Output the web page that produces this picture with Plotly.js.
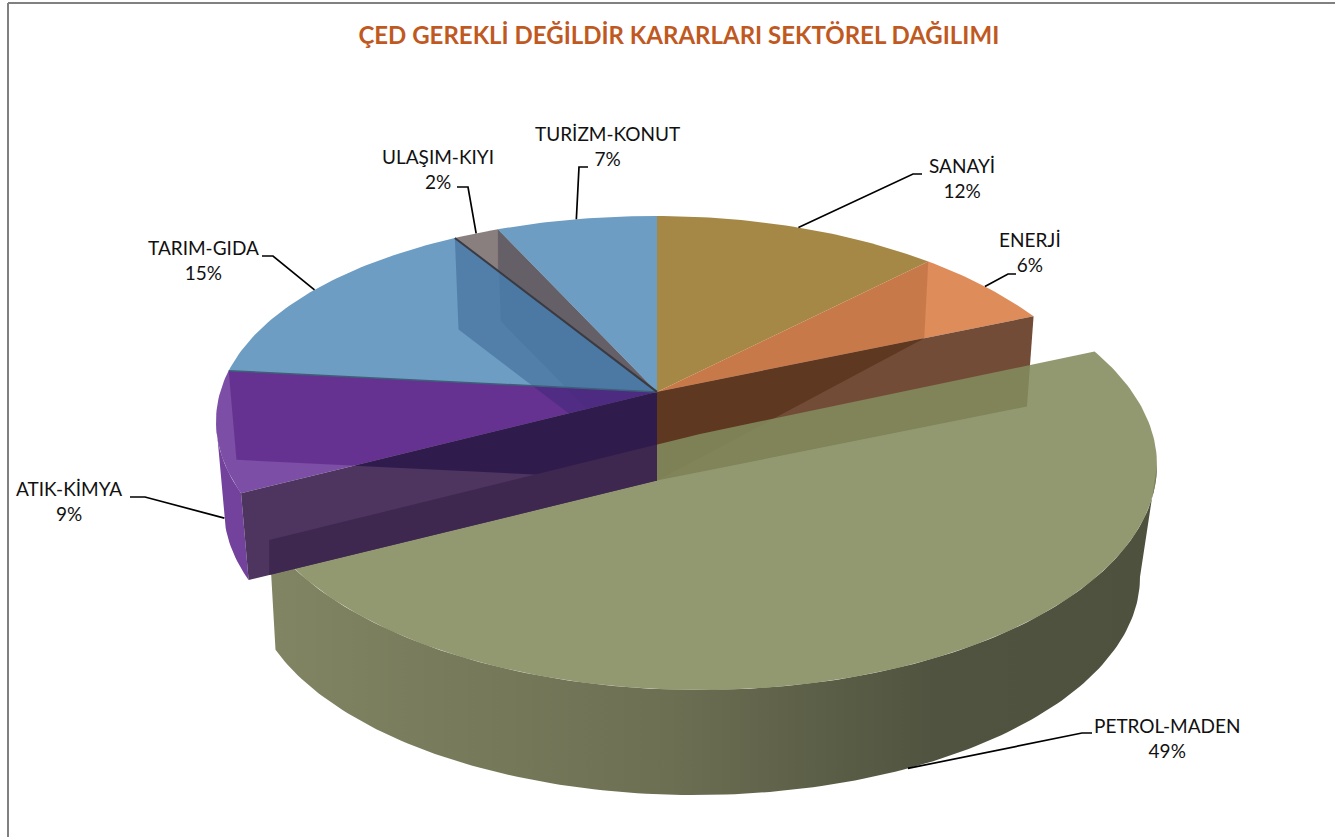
<!DOCTYPE html>
<html><head><meta charset="utf-8"><script src="https://cdn.plot.ly/plotly-3.0.1.min.js"></script>
<style>html,body{margin:0;padding:0;background:#fff;overflow:hidden}#c{width:1335px;height:837px}</style></head>
<body><div id="c"></div><script>
const categories=['SANAYİ','ENERJİ','PETROL-MADEN','ATIK-KİMYA','TARIM-GIDA','ULAŞIM-KIYI','TURİZM-KONUT'];
const percents=[12,6,49,9,15,2,7];
const labelCentres=[[962,178],[1030,252],[1167,738],[69,501],[203,260],[438,169],[607,146]];
const leaderElbows=[[[913,174],[922,174]],[[1008,274],[1016,274]],[[1082,733],[1092,733]],[[145,497],[130,497]],[[273,256],[262,256]],[[468,187],[457,187]],[[579,167],[588,167]]];
const leaderOnWall=[false,false,true,true,false,false,false];
const topColours=['#A58846','#DF8C5B',null,'#7C4EA5','#6D9DC3','#8A7F7F','#6D9DC3'];

// Tilted-disc projection: turns a pie angle into a page position.
const baseTop={cx:657,cy:430,rxR:455,rxL:441,ry:214,a:.178,skew:.02,spin:0};
const baseBot={cx:657,cy:518,rxR:447,rxL:433,ry:210,a:.178,skew:.02,spin:0};
const petTop={cx:700,cy:465,rxR:457,rxL:457,ry:225,a:.138,skew:0,spin:2};
const petBot={cx:695,cy:577,rxR:445,rxL:445,ry:218,a:.138,skew:0,spin:2};
function proj(e,th){const r=(th+e.spin)*Math.PI/180,Y=Math.cos(r),d=1+e.a*Y,k=Math.sqrt(1-e.a*e.a);
  const X=Math.sin(r)*k/d, dx=X*(X>0?e.rxR:e.rxL);
  return [e.cx+dx,e.cy-e.ry*(Y+e.a)/d+e.skew*dx*Math.abs(dx)/e.rxL];}
const apex=e=>[e.cx,e.cy-e.ry*e.a];
const extreme=e=>Math.acos(-e.a)*180/Math.PI-e.spin;   // angle where the rim is widest to the right
function arc(e,t0,t1){const n=Math.max(2,Math.ceil(Math.abs(t1-t0)));const o=[];for(let i=0;i<=n;i++)o.push(proj(e,t0+(t1-t0)*i/n));return o;}
function cross(p,q,r,s){const d=(p[0]-q[0])*(r[1]-s[1])-(p[1]-q[1])*(r[0]-s[0]);
  const u=p[0]*q[1]-p[1]*q[0],v=r[0]*s[1]-r[1]*s[0];
  return [(u*(r[0]-s[0])-(p[0]-q[0])*v)/d,(u*(r[1]-s[1])-(p[1]-q[1])*v)/d];}
const edges=[0];percents.forEach(v=>edges.push(edges[edges.length-1]+v*3.6));
const traces=[];
function poly(name,pts,fill,extra){const xs=pts.map(p=>p[0]).concat(pts[0][0]),ys=pts.map(p=>p[1]).concat(pts[0][1]);
  traces.push(Object.assign({type:'scatter',mode:'lines',name,x:xs,y:ys,fill:'toself',fillcolor:fill,line:{width:0,color:fill},hoverinfo:'skip',showlegend:false},extra||{}));}
function line(name,pts,color,w){traces.push({type:'scatter',mode:'lines',name,x:pts.map(p=>p[0]),y:pts.map(p=>p[1]),line:{color,width:w},hoverinfo:'skip',showlegend:false});}

const A=apex(baseTop),B=apex(baseBot),PA=apex(petTop);
const face=th=>[A,proj(baseTop,th),proj(baseBot,th),B];
function sector(i){return [A].concat(arc(baseTop,edges[i],edges[i+1]));}
[0,1,4,5,6].forEach(i=>poly(categories[i],sector(i),topColours[i]));
// waste slice wall and top
const wasteLeft=360-extreme({a:baseTop.a,spin:0});
poly('ATIK wall',arc(baseTop,edges[3],wasteLeft).concat(arc(baseBot,wasteLeft,edges[3])),'#72429C');
poly(categories[3],sector(3),topColours[3]);
// translucent radial faces seen through the pie
const f4=face(edges[5]), f5=face(edges[6]), f3=face(edges[4]);
poly('face tarım end',f4,'rgba(0,40,90,.25)');
poly('face ulaşım end',f5,'rgba(20,40,90,.07)');
const rU=proj(baseTop,edges[6]);
poly('ulaşım shade',[A,rU,cross(A,proj(baseTop,edges[5]),rU,[rU[0],rU[1]+50])],'rgba(45,45,60,.32)');
poly('face atık end',f3,'rgba(60,0,110,.35)');
const fE=face(edges[2]), fS=face(edges[1]);
poly('face enerji',fE,'#734C38');
const sOnE=cross(fS[1],fS[2],A,fE[1]);
poly('sanayi on enerji top',[A,fS[1],sOnE],'rgba(100,40,0,.18)');
poly('sanayi on enerji face',[A,sOnE,B],'#5E3820');
// exploded slice
const pth0=edges[2],pth1=edges[3],wallStart=extreme(petTop);
poly('PETROL wall',arc(petTop,wallStart,pth1).concat(arc(petBot,pth1,wallStart)),'#6E7153',
  {fillgradient:{type:'horizontal',colorscale:[[0,'#828563'],[.45,'#6C6F52'],[.75,'#50533F'],[1,'#4E513D']]}});
poly(categories[2],[PA].concat(arc(petTop,pth0,pth1)),'rgba(131,139,92,.88)');
// waste end face, drawn over the exploded slice
const fA=face(edges[3]);
poly('face atık start',fA,'#4D3560');
const tip=cross(fA[0],fA[1],f3[2],f3[3]);
poly('face overlap',[A,tip,B],'#301C4C');
const pL=proj(petTop,pth1);
const pRight=cross(pL,PA,A,B);
const pLow=cross(fA[2],fA[3],pL,[pL[0],pL[1]+50]);
poly('band over petrol',[pL,pRight,B,pLow],'#3F2850');
// seams
line('seam1',[A,f3[1]],'#3D6078',1.5);
line('seam2',[A,f4[1]],'#3A3A42',2);
// leaders and labels
const annotations=[];
categories.forEach((c,i)=>{const mid=(edges[i]+edges[i+1])/2;
  const e=i===2?(leaderOnWall[i]?petBot:petTop):(leaderOnWall[i]?baseBot:baseTop);
  line('leader '+c,[proj(e,mid)].concat(leaderElbows[i]),'#000',1.7);
  annotations.push({x:labelCentres[i][0],y:labelCentres[i][1],xref:'x',yref:'y',text:c+'<br>'+percents[i]+'%',showarrow:false,xanchor:'center',yanchor:'middle',align:'center',font:{family:'Lato',size:19,color:'#111'}});
});
const layout={width:1335,height:837,margin:{l:0,r:0,t:0,b:0},paper_bgcolor:'#fff',plot_bgcolor:'#fff',showlegend:false,
 title:{text:'ÇED GEREKLİ DEĞİLDİR KARARLARI SEKTÖREL DAĞILIMI',x:.5085,xanchor:'center',y:.957,yanchor:'middle',font:{family:'Lato',size:24,color:'#C0591F',weight:700}},
 xaxis:{range:[0,1335],visible:false,fixedrange:true},yaxis:{range:[837,0],visible:false,fixedrange:true},
 annotations,
 shapes:[{type:'line',xref:'paper',yref:'paper',x0:8/1335,x1:8/1335,y0:0,y1:834/837,line:{color:'#808080',width:2}},
         {type:'line',xref:'paper',yref:'paper',x0:8/1335,x1:1,y0:834/837,y1:834/837,line:{color:'#808080',width:2}}]};
Plotly.newPlot('c',traces,layout,{displayModeBar:false,staticPlot:true});
</script></body></html>
